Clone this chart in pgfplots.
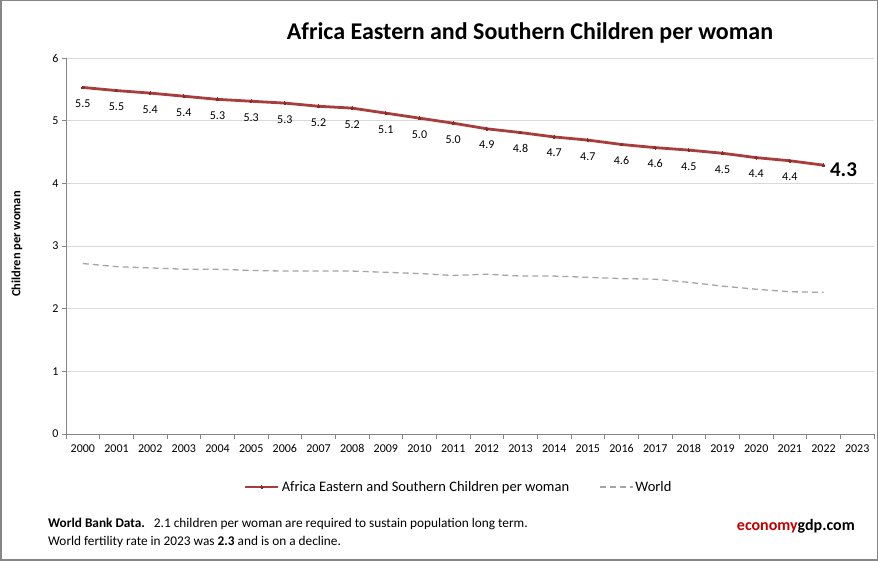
\documentclass[border=0pt]{standalone}
\usepackage{pgfplots}
\usepackage{pgfplotstable}
\pgfplotsset{compat=1.18}
\usepackage{fontspec}
\setmainfont{Carlito}

\definecolor{afr}{RGB}{168,62,60}
\definecolor{afrmark}{RGB}{140,42,42}
\definecolor{wld}{RGB}{165,165,165}
\definecolor{gridc}{RGB}{217,217,217}
\definecolor{axc}{RGB}{134,134,134}
\definecolor{brand}{RGB}{192,0,0}

% Fertility rate, children per woman (x = years since 2000)
\pgfplotstableread{
x y
0 5.53
1 5.48
2 5.44
3 5.39
4 5.34
5 5.31
6 5.28
7 5.23
8 5.20
9 5.12
10 5.04
11 4.96
12 4.87
13 4.81
14 4.74
15 4.69
16 4.62
17 4.57
18 4.53
19 4.48
20 4.41
21 4.36
22 4.29
}\africa

\pgfplotstableread{
x y
0 2.72
1 2.67
2 2.65
3 2.63
4 2.63
5 2.61
6 2.60
7 2.60
8 2.60
9 2.58
10 2.56
11 2.53
12 2.55
13 2.52
14 2.52
15 2.50
16 2.48
17 2.47
18 2.42
19 2.36
20 2.31
21 2.27
22 2.26
}\world

\begin{document}
\begin{tikzpicture}[x=1pt,y=1pt]
\useasboundingbox (0,0) rectangle (878,561);
\fill[white] (0,0) rectangle (878,561);
\begin{axis}[
  at={(66pt,127pt)}, anchor=south west,
  scale only axis, width=808pt, height=376pt,
  xmin=-0.5, xmax=23.5, ymin=0, ymax=6,
  xtick={0,...,23},
  xticklabels={2000,2001,2002,2003,2004,2005,2006,2007,2008,2009,2010,2011,
               2012,2013,2014,2015,2016,2017,2018,2019,2020,2021,2022,2023},
  minor xtick={-0.5,0.5,...,23.5},
  ytick={0,...,6},
  major x tick style={draw=none},
  minor tick length=5pt, major tick length=4pt,
  tick align=outside,
  axis x line*=bottom, axis y line*=left,
  axis line style={-, axc, line width=0.8pt},
  tick style={axc, line width=0.8pt},
  ymajorgrids, grid style={gridc, line width=0.8pt},
  /pgf/number format/assume math mode=true,
  tick label style={font=\fontsize{12}{14}\selectfont, text=black},
  xticklabel style={yshift=-3pt, text height=8pt, text depth=0pt},
  clip=false,
  legend style={at={(0.486,-0.141)}, anchor=center, draw=none, fill=none,
    legend columns=2, font=\fontsize{14.5}{17}\selectfont,
    /tikz/every even column/.append style={column sep=28pt}},
  legend cell align=left,
  legend image code/.code={\draw[mark repeat=2,mark phase=2,#1]
    plot coordinates {(0cm,0cm) (0.58cm,0cm) (1.16cm,0cm)};},
]
\addplot[afr, line width=2.8pt, mark=*, mark size=1.4pt,
  mark options={afrmark, line width=0pt}] table {\africa};
\addlegendentry{Africa Eastern and Southern Children per woman}

\addplot[wld, line width=1.3pt, dash pattern=on 6pt off 4pt] table {\world};
\addlegendentry{World}

% value labels under each point
\addplot[draw=none, mark=none, forget plot, restrict x to domain=0:21,
  nodes near coords,
  nodes near coords style={font=\fontsize{12}{14}\selectfont, text=black,
    anchor=center, yshift=-16pt, text height=8pt, text depth=0pt,
    /pgf/number format/.cd, fixed, fixed zerofill, precision=1}]
  table {\africa};

% latest value
\addplot[draw=none, mark=none, forget plot, restrict x to domain=22:22,
  nodes near coords,
  nodes near coords style={font=\bfseries\fontsize{21}{24}\selectfont, text=black,
    anchor=west, xshift=3pt, yshift=-5pt,
    /pgf/number format/.cd, fixed, fixed zerofill, precision=1}]
  table {\africa};
\end{axis}

\node[font=\bfseries\fontsize{24}{28}\selectfont] at (530,528)
  {Africa Eastern and Southern Children per woman};
\node[rotate=90, font=\bfseries\fontsize{12.5}{14}\selectfont] at (17,317)
  {Children per woman};

\node[anchor=west, font=\fontsize{13.3}{15}\selectfont, inner sep=0pt] at (48,37)
  {\textbf{World Bank Data.}\hspace{9pt}2.1 children per woman are required to sustain population long term.};
\node[anchor=west, font=\fontsize{13.3}{15}\selectfont, inner sep=0pt] at (48,19)
  {World fertility rate in 2023 was \textbf{2.3} and is on a decline.};
\node[anchor=east, font=\bfseries\fontsize{16}{18}\selectfont, inner sep=0pt] at (855,35)
  {\textcolor{brand}{economy}gdp.com};

\draw[axc, line width=1.5pt] (0.75,0.75) rectangle (877.25,560.25);
\end{tikzpicture}
\end{document}
